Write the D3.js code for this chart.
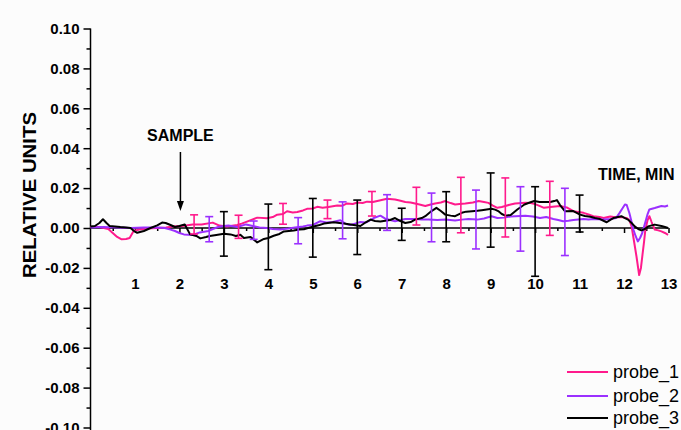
<!DOCTYPE html>
<html>
<head>
<meta charset="utf-8">
<script src="https://cdn.jsdelivr.net/npm/d3@7"></script>
<style>
html,body{margin:0;padding:0;background:#fcfcfc;}
svg{display:block;}
text{font-family:Arial,"Liberation Sans",sans-serif;}
</style>
</head>
<body>
<svg id="chart" width="681" height="430"></svg>
<script>
// ---------- DATA ----------
const seriesNames = ["probe_1", "probe_2", "probe_3"];
const seriesColors = ["#ff1a8c", "#9b30ff", "#000000"];

const probe1 = [
[0.0,0.0005],[0.2,0.0005],[0.4,-0.0005],[0.5,-0.0025],[0.6,-0.0045],[0.7,-0.0057],[0.8,-0.0055],[0.88,-0.005],
[0.97,-0.0015],[1.1,-0.0008],[1.27,-0.0003],[1.5,0.0],[1.7,0.0002],[1.85,0.0008],[2.07,0.001],[2.3,0.0018],
[2.5,0.0018],[2.75,0.0027],[2.9,0.0012],[3.07,0.0008],[3.3,0.0015],[3.4,0.0022],[3.52,0.0032],[3.75,0.0052],
[3.97,0.0049],[4.1,0.0055],[4.2,0.0067],[4.33,0.0070],[4.42,0.0084],[4.55,0.0078],[4.65,0.0080],[4.78,0.0088],
[4.87,0.0096],[5.0,0.0098],[5.1,0.0106],[5.22,0.0102],[5.35,0.0105],[5.55,0.0113],[5.67,0.0112],[5.77,0.0123],
[5.9,0.0120],[6.0,0.0128],[6.12,0.0125],[6.22,0.0132],[6.35,0.0130],[6.5,0.0138],[6.67,0.0147],[6.85,0.0143],
[6.95,0.0138],[7.08,0.0130],[7.2,0.0128],[7.3,0.0123],[7.4,0.0118],[7.53,0.0110],[7.65,0.0118],[7.75,0.0123],
[7.88,0.0128],[7.98,0.0135],[8.1,0.0125],[8.2,0.0118],[8.3,0.0120],[8.43,0.0123],[8.6,0.0128],[8.73,0.0135],
[8.85,0.0130],[8.95,0.0126],[9.05,0.0112],[9.15,0.0101],[9.25,0.0105],[9.33,0.0110],[9.45,0.0118],[9.55,0.0123],
[9.7,0.0125],[9.78,0.0126],[9.9,0.0125],[10.0,0.012],[10.11,0.011],[10.2,0.0101],[10.34,0.0105],[10.45,0.0108],
[10.56,0.011],[10.71,0.0103],[10.86,0.0084],[10.97,0.0080],[11.09,0.0076],[11.2,0.0068],[11.31,0.0059],[11.45,0.0055],
[11.54,0.005],[11.69,0.0058],[11.8,0.0054],[11.91,0.0055],[12.0,0.0052],[12.06,0.005],[12.12,0.004],[12.17,0.0008],
[12.22,-0.006],[12.28,-0.0143],[12.34,-0.0236],[12.38,-0.02],[12.41,-0.0143],[12.45,-0.007],[12.48,-0.0008],[12.53,0.004],
[12.57,0.0059],[12.62,0.003],[12.69,-0.0008],[12.77,-0.0012],[12.84,-0.0017],[12.92,-0.0025],[12.99,-0.0034]
];

const probe2 = [
[0.0,0.0003],[0.3,0.0005],[0.6,0.0003],[0.9,0.0],[1.2,0.0002],[1.5,0.0003],[1.67,0.0],[1.8,-0.0008],
[1.9,-0.0015],[2.0,-0.0025],[2.1,-0.0032],[2.3,-0.0035],[2.46,-0.0022],[2.65,-0.0015],[2.75,-0.0005],[2.87,0.0005],
[3.0,0.0010],[3.1,0.0012],[3.3,0.0005],[3.5,0.0018],[3.65,0.001],[3.8,0.0003],[3.97,0.0],[4.1,-0.0005],
[4.27,-0.0007],[4.45,-0.0003],[4.6,0.0003],[4.78,0.0008],[4.87,0.0012],[5.0,0.0015],[5.17,0.0034],[5.3,0.0028],
[5.45,0.0030],[5.62,0.0039],[5.75,0.002],[5.84,0.0015],[5.95,0.0022],[6.07,0.0030],[6.2,0.0028],[6.37,0.005],
[6.52,0.0062],[6.62,0.0048],[6.74,0.0040],[6.85,0.0034],[6.97,0.0040],[7.08,0.0045],[7.3,0.0045],[7.45,0.0042],
[7.6,0.0042],[7.8,0.0040],[7.98,0.0042],[8.2,0.0038],[8.35,0.0042],[8.5,0.0045],[8.7,0.0042],[8.85,0.0048],
[9.02,0.0059],[9.15,0.005],[9.3,0.0052],[9.45,0.0058],[9.55,0.0059],[9.78,0.0062],[9.95,0.0058],[10.11,0.005],
[10.25,0.0055],[10.41,0.0045],[10.52,0.0040],[10.63,0.0034],[10.75,0.0036],[10.86,0.004],[11.09,0.0045],[11.2,0.0043],
[11.31,0.0045],[11.54,0.0042],[11.7,0.0045],[11.82,0.005],[11.9,0.0076],[11.97,0.0100],[12.02,0.0118],[12.06,0.0115],
[12.12,0.0075],[12.17,0.003],[12.21,-0.0008],[12.26,-0.004],[12.31,-0.0067],[12.36,-0.005],[12.41,-0.0025],[12.48,0.003],
[12.53,0.007],[12.57,0.0093],[12.69,0.0100],[12.84,0.011],[12.92,0.0108],[12.99,0.0113]
];

const probe3 = [
[0.0,0.0008],[0.1,0.001],[0.2,0.0025],[0.28,0.0044],[0.36,0.0025],[0.43,0.001],[0.55,0.0008],[0.67,0.0005],
[0.8,0.0003],[0.9,0.0],[0.98,-0.0015],[1.05,-0.0024],[1.2,-0.0015],[1.35,0.0],[1.5,0.0013],[1.61,0.0027],
[1.69,0.0025],[1.8,0.0015],[1.9,0.0005],[2.0,0.001],[2.12,0.0018],[2.24,-0.0032],[2.38,-0.004],[2.47,-0.0052],
[2.6,-0.0045],[2.68,-0.004],[2.83,-0.0035],[3.0,-0.0029],[3.15,-0.0032],[3.27,-0.004],[3.37,-0.0034],[3.45,-0.005],
[3.6,-0.0045],[3.75,-0.0072],[3.9,-0.0055],[4.0,-0.005],[4.12,-0.0039],[4.25,-0.003],[4.35,-0.0017],[4.57,-0.0012],
[4.7,-0.0008],[4.8,-0.0006],[5.02,0.0008],[5.15,0.0015],[5.25,0.0022],[5.47,0.0029],[5.6,0.0025],[5.7,0.0022],
[5.92,0.0015],[6.07,0.001],[6.2,0.003],[6.3,0.0042],[6.4,0.0035],[6.52,0.0033],[6.74,0.0040],[6.85,0.005],
[6.97,0.0035],[7.08,0.0025],[7.2,0.003],[7.3,0.0042],[7.45,0.005],[7.53,0.0059],[7.67,0.0085],[7.78,0.0101],
[7.88,0.0085],[7.98,0.0067],[8.1,0.0062],[8.2,0.0059],[8.35,0.0076],[8.45,0.0082],[8.58,0.0084],[8.7,0.0086],
[8.8,0.0089],[9.02,0.0096],[9.1,0.0092],[9.17,0.0085],[9.25,0.007],[9.33,0.0062],[9.45,0.0065],[9.6,0.0093],
[9.76,0.0118],[9.88,0.0128],[9.98,0.0135],[10.1,0.0130],[10.2,0.0130],[10.34,0.013],[10.43,0.0135],[10.49,0.014],
[10.56,0.0115],[10.67,0.0084],[10.86,0.0085],[11.01,0.0067],[11.12,0.006],[11.24,0.0056],[11.35,0.005],[11.46,0.0045],
[11.55,0.0035],[11.61,0.0029],[11.7,0.0042],[11.76,0.005],[11.94,0.0059],[12.02,0.005],[12.09,0.0042],[12.17,0.0025],
[12.24,0.0008],[12.32,-0.0005],[12.39,-0.0012],[12.47,-0.0005],[12.54,0.0008],[12.69,0.0017],[12.84,0.001],[12.92,0.0005],
[12.99,0.0]
];

// error bars: [time, upper, lower]
const err1 = [[2.33,0.0066,-0.003],[3.33,0.0064,-0.0052],[4.33,0.0123,0.0019],[5.33,0.014,0.0047],[6.33,0.0183,0.006],
[7.33,0.0204,0.0015],[8.33,0.0254,-0.0024],[9.33,0.0251,-0.0045],[10.33,0.0234,-0.0037]];
const err2 = [[2.67,0.0057,-0.0069],[3.67,0.0035,-0.0057],[4.67,0.0052,-0.0079],[5.67,0.0131,-0.0054],[6.67,0.0167,-0.0012],
[7.67,0.0175,-0.0069],[8.67,0.019,-0.0105],[9.67,0.0207,-0.0116],[10.67,0.0199,-0.0138]];
const err3 = [[3,0.0082,-0.0141],[4,0.012,-0.0209],[5,0.0148,-0.0146],[6,0.014,-0.0133],[7,0.0099,-0.0062],
[8,0.0182,-0.0069],[9,0.0276,-0.0096],[10,0.0207,-0.0242],[11,0.0165,-0.002]];

const yTicks = [0.10,0.08,0.06,0.04,0.02,0.00,-0.02,-0.04,-0.06,-0.08,-0.10];
const yMinorTicks = [0.09,0.07,0.05,0.03,0.01,-0.01,-0.03,-0.05,-0.07,-0.09];
const xTicks = [1,2,3,4,5,6,7,8,9,10,11,12,13];
const xMinorTicks = [0.5,1.5,2.5,3.5,4.5,5.5,6.5,7.5,8.5,9.5,10.5,11.5,12.5];

const yTitle = "RELATIVE UNITS";
const xTitle = "TIME, MIN";
const sampleLabel = "SAMPLE";
const sampleTime = 2;

// ---------- DRAW ----------
const svg = d3.select("#chart");
svg.append("rect").attr("width",681).attr("height",430).attr("fill","#fcfcfc");

const x = d3.scaleLinear().domain([0,13]).range([90.5,668.5]);
const y = d3.scaleLinear().domain([-0.1,0.1]).range([427.5,28.5]);

const fmt = d => (Math.abs(d) < 1e-9 ? "0.00" : (d < 0 ? "-" : "") + Math.abs(d).toFixed(2));

// Y axis
const yAxisG = svg.append("g").attr("transform","translate(90.5,0)")
  .call(d3.axisLeft(y).tickValues(yTicks).tickFormat(fmt).tickSize(7).tickPadding(4));
svg.append("g").attr("transform","translate(90.5,0)")
  .call(d3.axisLeft(y).tickValues(yMinorTicks).tickFormat("").tickSize(4))
  .select(".domain").remove();
yAxisG.select(".domain").attr("d","M0,"+y(0.1)+"V"+y(-0.1)+"V430");

// X axis at zero
const xAxisG = svg.append("g").attr("transform","translate(0,"+y(0)+")")
  .call(d3.axisBottom(x).tickValues(xTicks).tickFormat(d3.format("d")).tickSizeInner(5).tickSizeOuter(0).tickPadding(45));
xAxisG.select(".domain").attr("d","M"+x(0)+",0H"+x(13));
svg.append("g").attr("transform","translate(0,"+y(0)+")")
  .call(d3.axisBottom(x).tickValues(xMinorTicks).tickFormat("").tickSize(3))
  .select(".domain").remove();

svg.selectAll(".tick line, .domain").attr("stroke","#000").attr("stroke-width",1.5);
svg.selectAll(".tick text").attr("font-size",15).attr("font-weight","bold").attr("fill","#000")
  .attr("font-family","Arial, 'Liberation Sans', sans-serif");

// Series
const line = d3.line().x(d => x(d[0])).y(d => y(d[1]));
const allSeries = [probe1, probe2, probe3];
const allErr = [err1, err2, err3];

allSeries.forEach((s,i) => {
  svg.append("path").datum(s).attr("d",line).attr("fill","none")
    .attr("stroke",seriesColors[i]).attr("stroke-width",2).attr("stroke-linejoin","round");
});

allErr.forEach((e,i) => {
  const g = svg.append("g").attr("stroke",seriesColors[i]).attr("stroke-width",1.6).attr("fill","none");
  e.forEach(d => {
    const cx = x(d[0]);
    g.append("line").attr("x1",cx).attr("x2",cx).attr("y1",y(d[1])).attr("y2",y(d[2]));
    g.append("line").attr("x1",cx-4).attr("x2",cx+4).attr("y1",y(d[1])).attr("y2",y(d[1]));
    g.append("line").attr("x1",cx-4).attr("x2",cx+4).attr("y1",y(d[2])).attr("y2",y(d[2]));
  });
});

// Titles
svg.append("text").attr("transform","translate(36,195) rotate(-90)")
  .attr("text-anchor","middle").attr("font-size",18).attr("font-weight","bold")
  .attr("textLength",166).attr("lengthAdjust","spacingAndGlyphs").text(yTitle);

svg.append("text").attr("x",598).attr("y",180).attr("font-size",16).attr("font-weight","bold").text(xTitle);

// Sample annotation
const sx = x(sampleTime) + 1;
svg.append("text").attr("x",sx).attr("y",141).attr("text-anchor","middle")
  .attr("font-size",16).attr("font-weight","bold").text(sampleLabel);
svg.append("line").attr("x1",sx).attr("x2",sx).attr("y1",152).attr("y2",203)
  .attr("stroke","#000").attr("stroke-width",1.5);
svg.append("path").attr("d","M"+(sx-3.5)+",201L"+(sx+3.5)+",201L"+sx+",211Z").attr("fill","#000");

// Legend
const legY = [372, 396, 418];
seriesNames.forEach((n,i) => {
  svg.append("line").attr("x1",567).attr("x2",608).attr("y1",legY[i]).attr("y2",legY[i])
    .attr("stroke",seriesColors[i]).attr("stroke-width",2);
  svg.append("text").attr("x",613).attr("y",legY[i]+6).attr("font-size",18).attr("fill","#000").text(n);
});
</script>
</body>
</html>
